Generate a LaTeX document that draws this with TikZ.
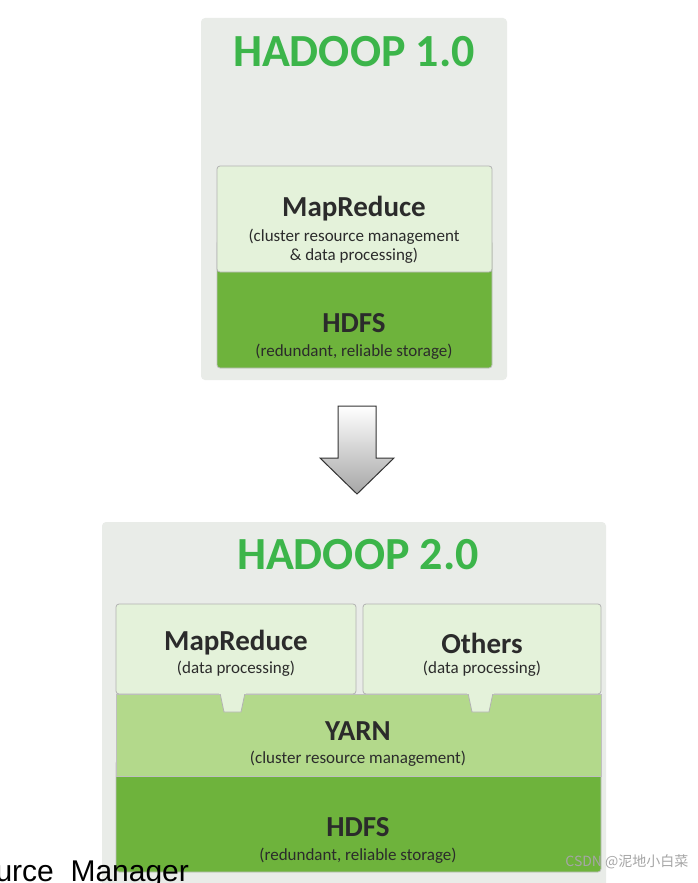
\documentclass[tikz,border=0pt]{standalone}
\usepackage{fontspec}
\setmainfont{Carlito}
\newfontfamily\cjk{Noto Sans CJK SC}
\newfontfamily\sans{Liberation Sans}
\begin{document}
\begin{tikzpicture}[x=1pt,y=-1pt,
  panel/.style={fill=panelgray,rounded corners=4pt},
  lightbox/.style={fill=lightg,draw=gray!60,rounded corners=3pt,line width=0.8pt},
  midbox/.style={fill=midg,draw=gray!50,line width=0.8pt},
  darkbox/.style={fill=darkg,draw=gray!50,rounded corners=3pt,line width=0.8pt},
  ttl/.style={font=\bfseries\fontsize{46}{46}\selectfont,text=titleg},
  big/.style={font=\bfseries\fontsize{29}{29}\selectfont,text=textd},
  small/.style={font=\fontsize{17}{17}\selectfont,text=textd}]
\definecolor{panelgray}{HTML}{E9ECE8}
\definecolor{lightg}{HTML}{E4F2DA}
\definecolor{midg}{HTML}{B3D98B}
\definecolor{darkg}{HTML}{6EB33C}
\definecolor{titleg}{HTML}{3CB54A}
\definecolor{textd}{HTML}{2B2B2B}
\useasboundingbox (0,0) rectangle (697,883);
\fill[white] (0,0) rectangle (697,883);
% top panel
\path[panel] (201,18) rectangle (507,380);
\node[ttl] (t1) at (354,52) {HADOOP 1.0};
\path[darkbox] (217,240) rectangle (492,368);
\path[lightbox] (217,166) rectangle (492,272);
\node[big] (mr1) at (354,209) {MapReduce};
\node[small,align=center] (mr1s) at (354,246) {(cluster resource management\\[2pt]\& data processing)};
\node[big] (h1) at (354,323) {HDFS};
\node[small] (h1s) at (354,352) {(redundant, reliable storage)};
% arrow
\shade[top color=white,bottom color=gray!70,draw=black!80,line width=1pt]
 (338,406) -- (376,406) -- (376,458) -- (394,458) -- (357,494) -- (320,458) -- (338,458) -- cycle;
% bottom panel
\path[panel] (102,522) rectangle (606,890);
\node[ttl] (t2) at (358,555) {HADOOP 2.0};
\path[darkbox] (116,760) rectangle (601,872);
\path[midbox] (116,694) rectangle (601,776);
\path[lightbox] (116,604) rectangle (356,694);
\path[lightbox] (363,604) rectangle (601,694);
\path[fill=lightg,draw=gray!60,line width=0.8pt] (220,693) -- (224,712) -- (241,712) -- (245,693);
\path[fill=lightg,draw=gray!60,line width=0.8pt] (468,693) -- (472,712) -- (489,712) -- (493,693);
\fill[lightg] (219,690) rectangle (246,694.2);
\fill[lightg] (467,690) rectangle (494,694.2);
\node[big] (mr2) at (236,643) {MapReduce};
\node[small] (mr2s) at (236,669) {(data processing)};
\node[big] (ot) at (482,643) {Others};
\node[small] (ots) at (482,669) {(data processing)};
\node[big] (y) at (358,731) {YARN};
\node[small] (ys) at (358,759) {(cluster resource management)};
\node[big] (h2) at (358,827) {HDFS};
\node[small] (h2s) at (358,856) {(redundant, reliable storage)};
\node[font=\cjk\fontsize{14}{14}\selectfont,text=gray!70,anchor=east] (wm) at (692,862) {CSDN @泥地小白菜};
\node[font=\sans\fontsize{30}{30}\selectfont,text=black,anchor=west] (sub) at (-8,874) {urce\ \ Manager};
\end{tikzpicture}
\end{document}
